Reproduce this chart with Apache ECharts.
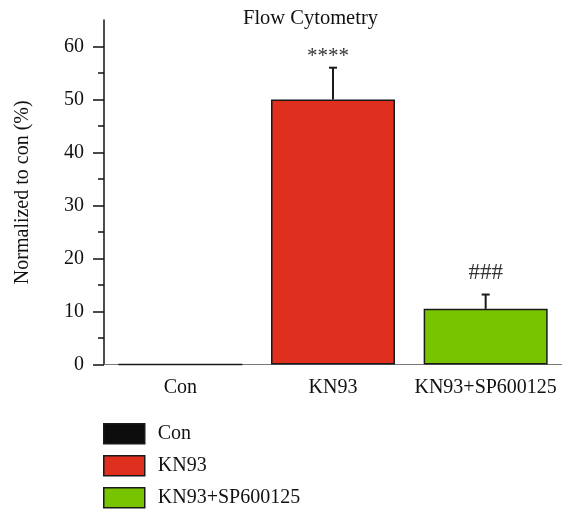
<!DOCTYPE html>
<html><head><meta charset="utf-8">
<script src="https://cdn.jsdelivr.net/npm/echarts@6/dist/echarts.min.js"></script>
<style>html,body{margin:0;padding:0;background:#fff}#c{width:562px;height:514px}</style>
</head><body><div id="c"></div>
<script>
const categories = ['Con', 'KN93', 'KN93+SP600125'];
const means = [0, 50, 10.5];
const errUpper = [0, 56, 13.2];
const marks = ['', '****', '###'];
const colors = ['#0d0d0d', '#de2f1f', '#78c400'];
const yTicks = [0, 10, 20, 30, 40, 50, 60];
const yMinorTicks = [5, 15, 25, 35, 45, 55];

const FONT = '"Liberation Serif", "DejaVu Serif", serif';
const chart = echarts.init(document.getElementById('c'));

const barSeries = categories.map((name, i) => ({
  name: name,
  type: 'bar',
  barWidth: 124,
  barGap: '-100%',
  data: categories.map((c, j) => (j === i ? means[i] : '-')),
  itemStyle: { color: colors[i], borderColor: '#1a1a1a', borderWidth: 1.5 },
  silent: true,
  z: 2
}));

const errData = categories.map((c, i) => [i, means[i], errUpper[i], marks[i]]).filter(d => d[2] > d[1]);

chart.setOption({
  animation: false,
  textStyle: { fontFamily: FONT },
  title: {
    text: 'Flow Cytometry', left: 243, top: 8, padding: 0,
    textStyle: { fontFamily: FONT, fontSize: 20.5, fontWeight: 'normal', color: '#111' }
  },
  legend: {
    orient: 'vertical', left: 103, top: 423, padding: 0,
    itemWidth: 41, itemHeight: 20, itemGap: 10.5,
    icon: 'rect',
    data: categories,
    textStyle: { fontFamily: FONT, fontSize: 20, lineHeight: 20, color: '#111', padding: [0, 0, 0, 8] },
    itemStyle: { borderColor: '#1a1a1a', borderWidth: 1.5 }
  },
  grid: { left: 104, right: -4, top: 20, bottom: 149.5, containLabel: false },
  xAxis: [
    {
      type: 'category', data: categories,
      axisLine: { lineStyle: { color: '#777', width: 1 } },
      axisTick: { alignWithLabel: true, length: 7, lineStyle: { color: '#111', width: 1.5 } },
      axisLabel: { interval: 0, margin: 13, fontFamily: FONT, fontSize: 20, color: '#111' }
    },
    {
      type: 'category', data: categories, position: 'bottom',
      axisLine: { show: false },
      axisTick: { interval: 0, length: 4, lineStyle: { color: '#444', width: 1.5 } },
      axisLabel: { show: false }
    }
  ],
  yAxis: [
    {
      type: 'value', min: 0, max: 65, interval: 10,
      name: 'Normalized to con (%)', nameLocation: 'middle', nameGap: 71,
      nameTextStyle: { fontFamily: FONT, fontSize: 20, color: '#111' },
      axisLine: { show: true, lineStyle: { color: '#111', width: 1.5 } },
      axisTick: { show: true, length: 11, customValues: yTicks, lineStyle: { color: '#111', width: 1.5 } },
      axisLabel: { margin: 20, customValues: yTicks, fontFamily: FONT, fontSize: 20, color: '#111' },
      splitLine: { show: false }
    },
    {
      type: 'value', min: 0, max: 65, position: 'left',
      axisLine: { show: false },
      axisTick: { show: true, length: 6, customValues: yMinorTicks, lineStyle: { color: '#111', width: 1.5 } },
      axisLabel: { show: false },
      splitLine: { show: false }
    }
  ],
  series: barSeries.concat([{
    type: 'custom',
    silent: true,
    z: 5,
    data: errData,
    renderItem: function (params, api) {
      const x = api.value(0);
      const base = api.coord([x, api.value(1)]);
      const top = api.coord([x, api.value(2)]);
      const label = errData[params.dataIndex][3];
      const isStar = label.charAt(0) === '*';
      return {
        type: 'group',
        children: [
          { type: 'line', shape: { x1: base[0], y1: base[1], x2: top[0], y2: top[1] }, style: { stroke: '#1a1a1a', lineWidth: 2 } },
          { type: 'line', shape: { x1: top[0] - 4, y1: top[1], x2: top[0] + 4, y2: top[1] }, style: { stroke: '#1a1a1a', lineWidth: 2 } },
          { type: 'text', style: { text: label, x: top[0] - (isStar ? 5 : 0), y: top[1] - (isStar ? 1 : 10), align: 'center', verticalAlign: 'bottom', fontFamily: FONT, fontSize: isStar ? 21 : 23, fill: '#333' } }
        ]
      };
    }
  }])
});
</script></body></html>
